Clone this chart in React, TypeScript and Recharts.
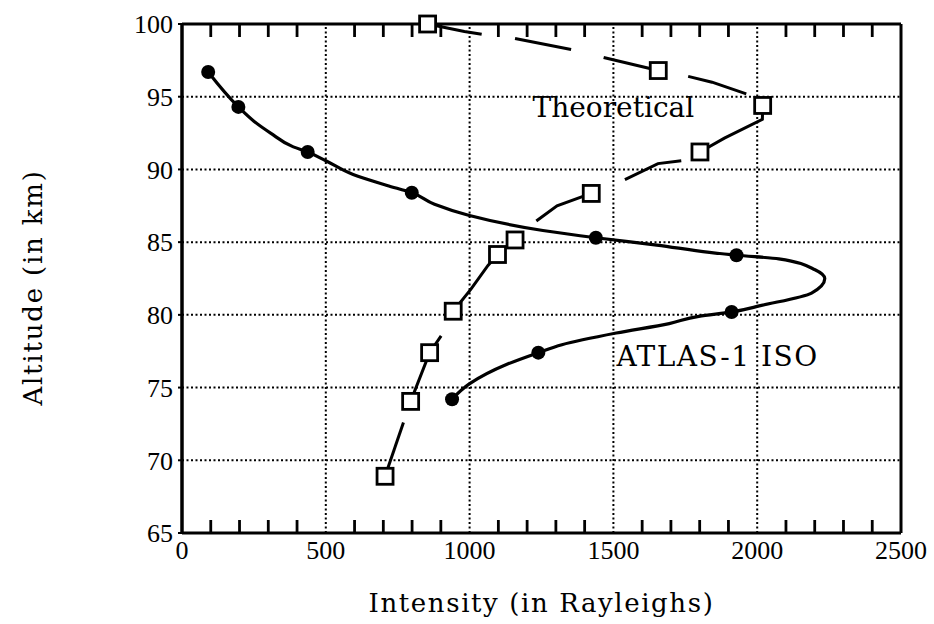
import React from 'react';
import {
  ScatterChart,
  Scatter,
  XAxis,
  YAxis,
  CartesianGrid,
  ReferenceLine,
  ReferenceDot,
  Label,
} from 'recharts';

// ---------- axis ticks ----------
const xMajorTicks = [0, 500, 1000, 1500, 2000, 2500];
const xMinorTicks = [
  100, 200, 300, 400, 600, 700, 800, 900, 1100, 1200, 1300, 1400, 1600, 1700, 1800,
  1900, 2100, 2200, 2300, 2400,
];
const yTicks = [65, 70, 75, 80, 85, 90, 95, 100];
const xDomain = [0, 2500];
const yDomain = [65, 100];
const xGridValues = [500, 1000, 1500, 2000];

// ---------- ATLAS-1 ISO measured points (filled circles) ----------
const atlasIntensity = [91, 196, 437, 799, 1439, 1928, 1911, 1239, 939];
const atlasAltitude = [96.7, 94.3, 91.2, 88.4, 85.3, 84.1, 80.2, 77.4, 74.2];

// ---------- ATLAS-1 ISO drawn profile (bottom to top) ----------
const atlasTraceIntensity = [
  939, 999, 1130, 1239, 1321, 1510, 1694, 1797, 1911, 2015, 2189, 2235, 2201, 2075,
  1928, 1834, 1651, 1439, 1255, 996, 878, 799, 713, 595, 500, 437, 387, 308, 251, 196,
  91,
];
const atlasTraceAltitude = [
  74.2, 75.25, 76.6, 77.4, 77.95, 78.75, 79.4, 79.9, 80.2, 80.65, 81.5, 82.5, 83.1,
  83.85, 84.1, 84.3, 84.8, 85.3, 85.8, 86.85, 87.6, 88.4, 88.9, 89.65, 90.6, 91.2,
  91.55, 92.5, 93.3, 94.3, 96.7,
];

// ---------- Theoretical points (open squares) ----------
const theoreticalIntensity = [706, 795, 861, 943, 1097, 1158, 1423, 1801, 2019, 1656, 854];
const theoreticalAltitude = [68.9, 74.05, 77.4, 80.25, 84.15, 85.15, 88.35, 91.2, 94.4, 96.8, 100];

// ---------- Theoretical hand-drawn pen strokes [intensity, altitude] ----------
const theoreticalStrokes: number[][][] = [
  [[706, 68.9], [770, 72.6]],
  [[795, 74.05], [861, 77.4], [901, 78.55]],
  [[943, 80.25], [1004, 81.75], [1064, 83.4], [1097, 84.15], [1158, 85.15]],
  [[1232, 86.45], [1304, 87.5], [1423, 88.35]],
  [[1540, 89.3], [1655, 90.4], [1736, 90.6]],
  [[1801, 91.2], [1886, 92.15], [2018, 93.45], [2019, 94.4]],
  [[1962, 95.2], [1843, 96.0], [1760, 96.4]],
  [[1656, 96.8], [1466, 97.7]],
  [[1353, 98.25], [1158, 99.0]],
  [[1042, 99.3], [982, 99.49], [854, 100]],
];

// ---------- texts ----------
const xTitle = 'Intensity (in Rayleighs)';
const yTitle = 'Altitude (in km)';
const theoreticalLabel = { text: 'Theoretical', x: 1500, y: 94.3 };
const atlasLabel = { text: 'ATLAS-1 ISO', x: 1862, y: 77.2 };

const SERIF = "'DejaVu Serif', serif";
const NUM = "'Liberation Serif', serif";

const CHART_W = 934;
const CHART_H = 624;
const MARGIN = { top: 24, right: 33, bottom: 0, left: 0 };
const TICK_LEN = 13;

const toPoints = (xs: number[], ys: number[]) => xs.map((x, i) => ({ x, y: ys[i] }));

const atlasPoints = toPoints(atlasIntensity, atlasAltitude);
const atlasTrace = toPoints(atlasTraceIntensity, atlasTraceAltitude);
const theoreticalPoints = toPoints(theoreticalIntensity, theoreticalAltitude);
const strokeSeries = theoreticalStrokes.map((s) => s.map(([x, y]) => ({ x, y })));

const NoShape = () => <g />;
const DotShape = (p: any) => <circle cx={p.cx} cy={p.cy} r={7} fill="#000" />;
const SquareShape = (p: any) => (
  <rect x={p.cx - 8} y={p.cy - 8} width={16} height={16} fill="#fff" stroke="#000" strokeWidth={2.8} />
);

const xToPixel = (v: number, left: number, width: number) =>
  left + ((v - xDomain[0]) / (xDomain[1] - xDomain[0])) * width;

const BottomTick = (props: any) => {
  const { x, y, payload } = props;
  return (
    <text x={x} y={y + 26} textAnchor="middle" fontFamily={NUM} fontSize={26} fill="#000">
      {payload.value}
    </text>
  );
};

const annotation = (text: string, spacing: number) => (props: any) => {
  const vb = props.viewBox || {};
  const cx = (vb.x || 0) + (vb.width || 0) / 2;
  const cy = (vb.y || 0) + (vb.height || 0) / 2;
  return (
    <text
      x={cx}
      y={cy}
      dy="0.36em"
      textAnchor="middle"
      fontFamily={SERIF}
      fontSize={28}
      letterSpacing={spacing}
      fill="#000"
    >
      {text}
    </text>
  );
};

// x-axis title + inward minor ticks along the bottom edge (axis viewBox spans the plot width)
const XTitle = (props: any) => {
  const vb = props.viewBox;
  return (
    <g>
      {xMinorTicks.map((v) => {
        const px = xToPixel(v, vb.x, vb.width);
        return (
          <line
            key={`bt${v}`}
            x1={px}
            x2={px}
            y1={vb.y}
            y2={vb.y - TICK_LEN}
            stroke="#000"
            strokeWidth={2.8}
          />
        );
      })}
      <text
        x={vb.x + vb.width / 2}
        y={vb.y + vb.height - 12}
        textAnchor="middle"
        fontFamily={SERIF}
        fontSize={26}
        letterSpacing={1.6}
        fill="#000"
      >
        {xTitle}
      </text>
    </g>
  );
};

// y-axis title + inward minor ticks along the top edge
const YTitle = (props: any) => {
  const vb = props.viewBox;
  const cx = vb.x + 42;
  const cy = vb.y + vb.height / 2 + 9;
  const plotLeft = vb.x + vb.width;
  const plotWidth = CHART_W - MARGIN.right - plotLeft;
  const plotTop = vb.y;
  return (
    <g>
      {xMinorTicks.map((v) => {
        const px = xToPixel(v, plotLeft, plotWidth);
        return (
          <line
            key={`tt${v}`}
            x1={px}
            x2={px}
            y1={plotTop}
            y2={plotTop + TICK_LEN}
            stroke="#000"
            strokeWidth={2.8}
          />
        );
      })}
      <text
        x={cx}
        y={cy}
        transform={`rotate(-90, ${cx}, ${cy})`}
        textAnchor="middle"
        fontFamily={SERIF}
        fontSize={26}
        letterSpacing={1.8}
        fill="#000"
      >
        {yTitle}
      </text>
    </g>
  );
};

export default function App() {
  return (
    <div style={{ position: 'absolute', left: 0, top: 0, width: CHART_W, height: CHART_H, background: '#fff' }}>
      <ScatterChart width={CHART_W} height={CHART_H} margin={MARGIN}>
        <CartesianGrid vertical={false} stroke="#000" strokeWidth={2} strokeDasharray="2 2.5" />
        {xGridValues.map((v) => (
          <ReferenceLine key={`g${v}`} x={v} stroke="#000" strokeWidth={2} strokeDasharray="2 2.5" />
        ))}
        <ReferenceLine y={yDomain[1]} stroke="#000" strokeWidth={3} ifOverflow="visible" />
        <ReferenceLine x={xDomain[1]} stroke="#000" strokeWidth={3} ifOverflow="visible" />
        <XAxis
          type="number"
          dataKey="x"
          domain={xDomain}
          ticks={xMajorTicks}
          interval={0}
          height={91}
          tickLine={false}
          tickSize={0}
          tickMargin={0}
          tick={BottomTick}
          axisLine={{ stroke: '#000', strokeWidth: 3 }}
        >
          <Label content={XTitle} />
        </XAxis>
        <YAxis
          type="number"
          dataKey="y"
          domain={yDomain}
          ticks={yTicks}
          interval={0}
          width={182}
          tickSize={4}
          tickMargin={5}
          tickLine={{ stroke: '#000', strokeWidth: 2 }}
          axisLine={{ stroke: '#000', strokeWidth: 3.5 }}
          tick={{ fontFamily: NUM, fontSize: 26, fill: '#000' }}
        >
          <Label content={YTitle} />
        </YAxis>

        {strokeSeries.map((pts, i) => (
          <Scatter
            key={`s${i}`}
            data={pts}
            shape={NoShape}
            line={{ stroke: '#000', strokeWidth: 3, fill: 'none' }}
            lineJointType="linear"
            isAnimationActive={false}
          />
        ))}
        <Scatter
          data={atlasTrace}
          shape={NoShape}
          line={{ stroke: '#000', strokeWidth: 3.2, fill: 'none' }}
          lineJointType="monotoneY"
          isAnimationActive={false}
        />
        <Scatter data={atlasPoints} shape={DotShape} isAnimationActive={false} />
        <Scatter data={theoreticalPoints} shape={SquareShape} isAnimationActive={false} />

        <ReferenceDot
          x={theoreticalLabel.x}
          y={theoreticalLabel.y}
          r={0}
          stroke="none"
          fill="none"
          label={annotation(theoreticalLabel.text, 0)}
        />
        <ReferenceDot
          x={atlasLabel.x}
          y={atlasLabel.y}
          r={0}
          stroke="none"
          fill="none"
          label={annotation(atlasLabel.text, 1.5)}
        />
      </ScatterChart>
    </div>
  );
}
